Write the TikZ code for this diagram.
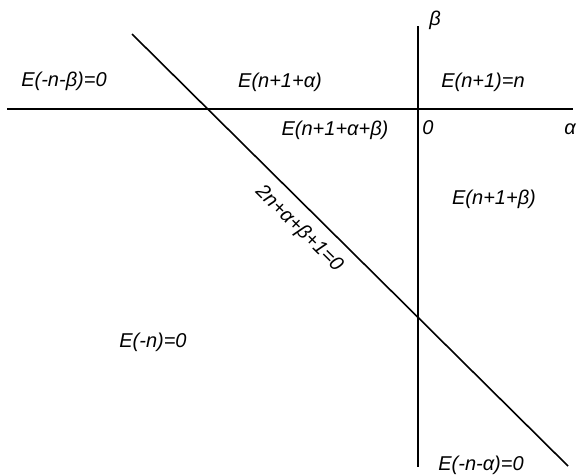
\documentclass[tikz,border=0pt]{standalone}
\usepackage{fontspec}
\setmainfont{Liberation Sans}
\begin{document}
\begin{tikzpicture}[x=1pt,y=-1pt,
  axis/.style={line width=1.6pt},
  lbl/.style={font=\itshape\fontsize{20}{22}\selectfont, inner sep=0pt}]
\useasboundingbox (0,0) rectangle (579,475);
% axes
\coordinate (hl) at (7,109);
\coordinate (hr) at (573,109);
\coordinate (vt) at (418,26);
\coordinate (vb) at (418,467);
\coordinate (dt) at (132,34);
\coordinate (db) at (568,466);
\draw[axis] (hl) -- (hr);
\draw[axis] (vt) -- (vb);
\draw[axis] (dt) -- (db);
% labels
\node[lbl] (a) at (64,81) {E(-n-β)=0};
\node[lbl] (b) at (280,82) {E(n+1+α)};
\node[lbl] (c) at (483,82) {E(n+1)=n};
\node[lbl] (d) at (335,130) {E(n+1+α+β)};
\node[lbl] (o) at (428,128) {0};
\node[lbl] (al) at (570,129) {α};
\node[lbl] (be) at (435,20) {β};
\node[lbl] (e) at (494,199) {E(n+1+β)};
\node[lbl] (f) at (153,342) {E(-n)=0};
\node[lbl] (g) at (481,465) {E(-n-α)=0};
\node[lbl, rotate=-44.7] (h) at (299,229) {2n+α+β+1=0};
\end{tikzpicture}
\end{document}
